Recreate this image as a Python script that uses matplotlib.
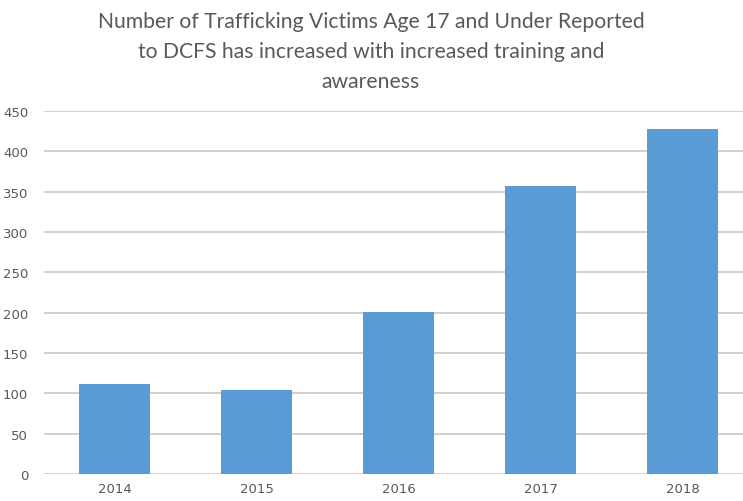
import matplotlib.pyplot as plt

# data
years = ["2014", "2015", "2016", "2017", "2018"]
victims = [111, 104, 201, 357, 428]
y_ticks = [0, 50, 100, 150, 200, 250, 300, 350, 400, 450]

W, H = 743, 502
fig = plt.figure(figsize=(W / 100, H / 100), dpi=100)
ax = fig.add_axes([43.5 / W, 27 / H, (754 - 43.5) / W, (475 - 112) / H])

x = range(len(years))
ax.bar(x, victims, width=0.5, color="#5B9BD5", zorder=3)

ax.set_xlim(-0.5, len(years) - 0.5)
ax.set_ylim(0, 450)
ax.set_yticks(y_ticks)
ax.set_xticks(list(x))
ax.set_xticklabels(years)
ax.grid(axis="y", color="#c8c8c8", linewidth=1.2, zorder=0)
for s in ax.spines.values():
    s.set_visible(False)
ax.tick_params(axis="both", length=0, colors="#595959", labelsize=9.5)
ax.tick_params(axis="y", pad=11)
ax.tick_params(axis="x", pad=6)

fig.text(371 / W, 1 - 52 / H,
         "Number of Trafficking Victims Age 17 and Under Reported\n"
         "to DCFS has increased with increased training and\nawareness",
         ha="center", va="center", fontsize=15.2, color="#595959",
         family="Lato", linespacing=1.6)

fig.savefig("out.png", dpi=100)
